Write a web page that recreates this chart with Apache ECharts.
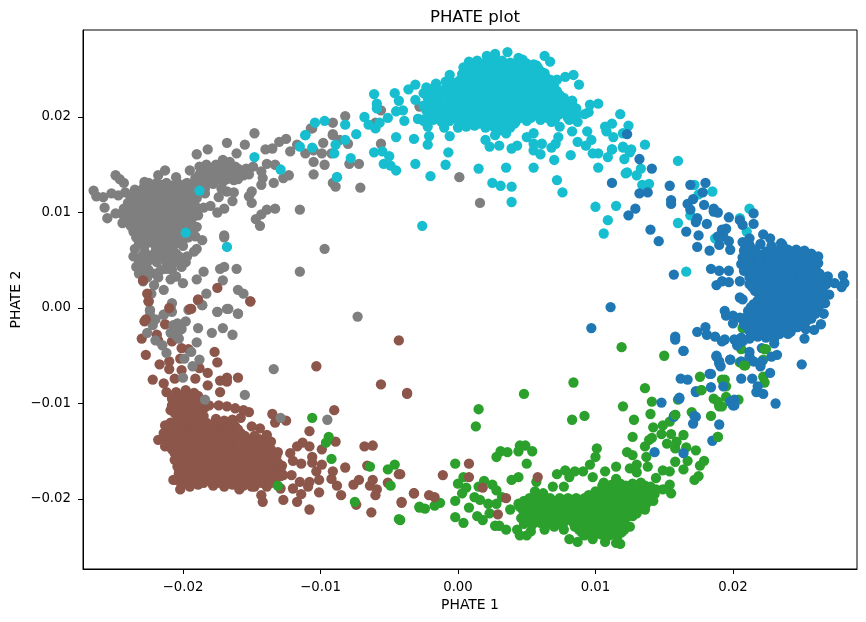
<!DOCTYPE html>
<html>
<head>
<meta charset="utf-8">
<style>html,body{margin:0;padding:0;background:#fff}#chart{width:866px;height:622px}</style>
<script src="https://cdn.jsdelivr.net/npm/echarts@6/dist/echarts.min.js"></script>
</head>
<body>
<div id="chart"></div>
<script>
// PHATE embedding coordinates, stored as [PHATE 1, PHATE 2] in units of 1e-4.
const UNIT = 1e-4;
const tickValues = [-0.02, -0.01, 0, 0.01, 0.02];

const brownPoints = [
[-225,7],[-209,0],[-194,-1],[-189,8],[-151,7],[-228,-14],[-213,-17],[-230,-32],[-219,-28],[-218,-34],[-208,-35],[-227,-49],[-201,-42],[-196,-43],[-177,-46],[-175,-57],[-217,-59],[-210,-56],[-210,-64],[-202,-53],[-201,-65],[-188,-63],[-182,-68],[-222,-75],[-214,-79],[-212,-88],[-206,-74],[-191,-74],[-182,-81],[-173,-76],[-168,-73],[-168,-77],[-160,-73],[-173,-88],[-103,-61],[-43,-34],[-56,-80],[-37,-90],[-90,-107],[-125,-118],[-135,-111],[-133,-120],[-108,-129],[-89,-140],[-99,-148],[-68,-145],[-62,-144],[-113,-141],[-117,-145],[-108,-145],[-122,-152],[-120,-160],[-114,-163],[-106,-156],[-106,-162],[-99,-164],[-103,-171],[-91,-171],[-82,-167],[-92,-179],[-88,-186],[-101,-180],[-108,-182],[-115,-182],[-109,-187],[-101,-193],[-114,-195],[-120,-189],[-117,-203],[-127,-201],[-142,-203],[-143,-196],[-108,-211],[-85,-196],[-76,-185],[-72,-180],[-74,-206],[-60,-196],[-59,-190],[-64,-186],[-62,-180],[-51,-183],[-43,-174],[-41,-203],[-32,-194],[-63,-214],[-66,-165],[-121,-175],[-129,-189],[-139,-187],[-148,-187],[-159,-190],[-202,-190],[-207,-180],[-131,-151],[-136,-140],[-139,-133],[-144,-126],[-150,-124],[-152,-109],
[-205,-88],[-198,-86],[-192,-89],[-189,-92],[-208,-95],[-202,-96],[-196,-94],[-190,-97],[-208,-102],[-203,-101],[-197,-103],[-191,-102],[-184,-104],[-181,-102],[-174,-102],[-168,-103],[-162,-105],[-156,-107],[-209,-107],[-206,-110],[-200,-111],[-194,-109],[-188,-112],[-204,-117],[-198,-116],[-192,-118],[-176,-116],[-170,-118],[-164,-117],[-158,-115],[-213,-123],[-206,-124],[-200,-123],[-194,-125],[-186,-122],[-180,-124],[-174,-123],[-168,-125],[-162,-124],[-214,-131],[-208,-130],[-202,-132],[-196,-131],[-190,-130],[-184,-132],[-178,-131],[-172,-130],[-166,-132],[-158,-131],[-218,-138],[-211,-139],[-205,-137],[-199,-138],[-193,-139],[-187,-138],[-181,-137],[-175,-139],[-169,-138],[-163,-137],[-157,-139],[-151,-138],[-145,-137],[-213,-145],[-205,-144],[-199,-146],[-193,-145],[-187,-144],[-181,-146],[-175,-145],[-169,-144],[-163,-146],[-157,-145],[-151,-144],[-145,-146],[-140,-145],[-206,-152],[-200,-151],[-194,-153],[-188,-152],[-182,-151],[-176,-153],[-170,-152],[-164,-151],[-158,-153],[-152,-152],[-146,-151],[-140,-153],[-206,-159],[-200,-160],[-194,-158],[-188,-159],[-182,-160],[-176,-158],[-170,-159],[-164,-160],[-158,-158],[-152,-159],[-146,-160],[-140,-158],[-134,-159],[-204,-166],[-198,-165],[-192,-167],[-186,-166],[-180,-165],[-174,-167],[-168,-166],[-162,-165],[-156,-167],[-150,-166],[-144,-165],[-138,-167],[-132,-166],[-128,-165],[-203,-173],[-197,-174],[-191,-172],[-185,-173],[-179,-174],[-173,-172],[-167,-173],[-161,-174],[-155,-172],[-149,-173],[-143,-174],[-137,-172],[-131,-173],[-127,-175],[-205,-180],[-199,-179],[-193,-181],[-187,-180],[-181,-179],[-175,-181],[-169,-180],[-163,-179],[-157,-181],[-151,-180],[-145,-179],[-139,-181],[-133,-180],[-201,-186],[-195,-187],[-189,-185],[-178,-186],[-170,-187],[-164,-185],[-156,-186],[-150,-187]
];
// Dense core of each cluster, one row per PHATE 2 value: [PHATE 2, PHATE 1, PHATE 1, ...].
const brownCoreRows = [
[-92,-203,-197,-191],[-99,-205,-199,-193,-187],[-106,-206,-200,-194,-188],[-113,-203,-197,-191,-185],
[-120,-209,-203,-197,-190,-183,-177,-171,-165],[-127,-210,-204,-198,-192,-185,-179,-173,-167,-160],
[-134,-212,-205,-199,-193,-187,-181,-175,-169,-163,-155,-148],[-141,-209,-202,-196,-190,-184,-178,-172,-166,-160,-154,-148,-142],
[-148,-208,-203,-196,-190,-184,-178,-172,-166,-160,-154,-148,-142,-136],[-155,-203,-197,-191,-185,-179,-173,-167,-161,-155,-149,-143,-137,-132],
[-162,-203,-197,-191,-185,-179,-173,-167,-161,-155,-149,-143,-137,-131],[-169,-201,-195,-189,-183,-177,-171,-165,-159,-153,-147,-141,-135,-129],
[-176,-200,-194,-188,-182,-176,-170,-164,-158,-152,-146,-140,-134,-129],[-183,-197,-191,-185,-179,-173,-167,-161,-155,-149,-143,-136]
];

const grayPoints = [
[-265,123],[-263,117],[-258,116],[-252,120],[-247,118],[-249,139],[-246,135],[-243,131],[-242,121],[-257,105],[-255,94],[-249,99],[-244,89],[-235,124],[-228,132],[-218,139],[-213,144],[-205,137],[-195,144],[-190,161],[-182,166],[-168,173],[-155,171],[-148,183],[-161,162],[-140,166],[-135,167],[-130,174],[-125,177],
[-228,128],[-222,127],[-216,129],[-208,128],[-200,127],[-194,129],[-232,122],[-225,121],[-219,123],[-213,122],[-206,121],[-199,123],[-193,122],[-188,121],[-238,116],[-231,117],[-226,115],[-220,116],[-214,117],[-207,115],[-201,116],[-195,117],[-190,115],[-240,110],[-234,109],[-228,111],[-222,110],[-215,109],[-209,111],[-203,110],[-197,109],[-192,111],[-243,104],[-237,105],[-230,103],[-225,104],[-218,105],[-212,103],[-205,104],[-199,105],[-194,103],[-244,98],[-238,97],[-232,99],[-226,98],[-220,97],[-214,99],[-208,98],[-202,97],[-196,99],[-240,92],[-234,93],[-228,91],[-222,92],[-215,93],[-209,91],[-203,92],[-238,86],[-232,85],[-226,87],[-220,86],[-214,85],[-207,87],[-236,80],[-230,81],[-224,79],[-218,80],[-212,81],[-205,79],[-198,80],[-234,74],[-228,73],[-222,75],[-216,74],[-210,73],[-203,75],[-196,74],[-232,68],[-224,69],[-216,67],[-210,68],[-204,69],
[-235,62],[-236,54],[-234,43],[-232,36],[-229,28],[-225,55],[-225,40],[-220,36],[-223,15],[-221,24],[-214,19],[-212,41],[-214,54],[-208,62],[-205,57],[-198,48],[-201,43],[-192,59],[-190,62],[-186,71],[-191,75],[-190,85],[-189,97],[-185,105],[-180,107],[-175,100],[-170,104],[-170,76],[-170,74],[-161,41],[-173,41],[-170,43],[-185,38],[-190,30],[-171,29],[-205,33],[-209,30],[-200,26],[-183,15],[-160,19],[-156,15],[-167,-1],[-175,-4],[-160,-6],[-186,3],[-208,5],[-224,-3],[-214,-7],[-208,-4],[-196,-2],[-115,103],[-97,62],[-115,38],[-133,104],[-139,103],[-143,98],[-147,93],[-144,86],[-150,122],[-152,117],[-150,110],[-164,112],[-174,116],[-184,120],[-168,122],[-163,121],
[-183,150],[-171,155],[-166,153],[-188,148],[-178,144],[-173,141],[-167,144],[-162,148],[-156,139],[-149,148],[-143,143],[-142,136],[-143,129],[-134,131],[-139,151],[-133,150],[-127,136],[-123,139],[-191,136],[-184,132],[-178,130],[-172,125],[-192,124],[-198,130],[-163,134],[-171,132],[-122,164],[-117,171],[-111,162],[-105,165],[-98,173],[-99,162],[-92,162],[-91,181],[-105,153],[-97,150],[-105,140],[-91,131],[-89,127],[-106,188],
[-107,188],[-91,194],[-82,201],[-91,182],[-80,172],[-86,176],[-79,151],[-72,151],[-71,126],[-56,172],[-56,207],[-60,194],[-28,211],[1,137],[16,110],
[-224,-2],[-220,-12],[-214,-7],[-204,-16],[-198,-14],[-209,-26],[-204,-26],[-203,-32],[-226,-26],[-220,-34],[-215,-39],[-212,-47],[-199,-53],[-188,-54],[-193,-61],[-200,-73],[-190,-36],[-194,-46],[-189,-21],[-179,-26],[-171,-21],[-164,-28],[-186,3],[-175,-4],[-168,-1],[-160,-6],[-134,-64],[-155,-91],[-184,-96],[-129,-115],[-95,-117],[-73,-9],
[-207,-18],[-204,-21],[-207,-24],[-201,-22],[-205,-29],[-224,-8],[-222,-18]
];
const grayCoreRows = [
[150,-176,-170],[146,-186,-180,-174,-168,-160,-154],[140,-188,-182,-176,-168,-162,-152],[135,-187,-180,-175,-168,-160],
[131,-225,-219,-212,-204,-197,-188,-180],[125,-229,-222,-216,-210,-203,-196,-190,-184],[119,-235,-228,-222,-216,-210,-204,-198,-192],
[113,-237,-231,-225,-218,-212,-206,-200,-194],[107,-240,-234,-227,-221,-215,-208,-202,-196,-191],[101,-240,-235,-229,-223,-216,-210,-204,-197,-191],
[95,-242,-237,-231,-225,-218,-212,-205,-199,-193],[89,-237,-231,-225,-218,-212,-206,-200,-194],[83,-235,-229,-223,-217,-210,-203,-196],
[77,-232,-226,-220,-214,-207,-200,-193],[71,-230,-226,-219,-213,-207,-200],[65,-228,-220,-214,-207,-200],[59,-228,-220,-214,-208],
[54,-230,-221,-209,-203,-197],[48,-232,-226,-219,-212,-207,-204],[40,-228,-216,-208],[32,-226,-218]
];

const greenPoints = [
[119,-41],[150,-50],[84,-78],[48,-90],[15,-106],[13,-124],[83,-117],[92,-113],[136,-84],[141,-98],[120,-103],[140,-111],[128,-117],[142,-125],[127,-135],[176,-72],[177,-86],[192,-75],[194,-75],[186,-95],[195,-93],[190,-103],[189,-98],[170,-109],[184,-113],[189,-135],[158,-112],[154,-119],[149,-123],[155,-132],[148,-132],[141,-136],[139,-138],[136,-145],[137,-156],[123,-151],[127,-154],[164,-133],[159,-140],[152,-142],[166,-146],[173,-149],[158,-147],[158,-161],[167,-160],[164,-169],[179,-160],[176,-165],[175,-176],[172,-180],[154,-171],[149,-170],[155,-194],[154,-185],[149,-190],[144,-178],[138,-166],[130,-164],[125,-168],[130,-172],[115,-166],[115,-179],[107,-171],[101,-147],[100,-156],[96,-164],[98,-177],[91,-171],[85,-171],[81,-177],[78,-170],[72,-174],[50,-163],[54,-150],[49,-144],[45,-144],[44,-150],[36,-151],[31,-150],[28,-156],[44,-177],[39,-180],[-2,-163],[4,-177],[0,-184],[6,-188],[3,-194],[-2,-202],[-13,-204],[-17,-207],[-24,-210],[-28,-208],[-42,-222],[-2,-219],[4,-225],[8,-209],[14,-218],[18,-222],[15,-187],[19,-181],[25,-185],[28,-191],[32,-198],[12,-198],[16,-201],[22,-205],[28,-205],[23,-215],[27,-228],[35,-232],[43,-232],[45,-238],[50,-238],[53,-234],[30,-228],[57,-182],[56,-192],[55,-200],[62,-194],[69,-187],[77,-187],[38,-211],[44,-205],[81,-242],[87,-245],[115,-246],[118,-247],[107,-245],[98,-242],[77,-232],[63,-232],[70,-229],
[95,-196],[101,-197],[107,-195],[113,-196],[119,-197],[125,-195],[130,-196],[137,-197],[143,-195],[106,-183],[112,-185],[118,-184],[127,-184],[133,-183],[140,-187],[108,-190],[114,-189],[120,-191],[126,-190],[132,-189],[138,-191],[144,-190],
[48,-202],[55,-203],[62,-201],[70,-202],[77,-203],[83,-201],[88,-202],[94,-203],[100,-201],[106,-202],[112,-203],[118,-201],[124,-202],[130,-203],[136,-201],[142,-202],[45,-208],[52,-209],[58,-207],[66,-208],[74,-209],[80,-207],[86,-208],[92,-209],[98,-207],[104,-208],[110,-209],[116,-207],[122,-208],[128,-209],[134,-207],[50,-214],[56,-215],[62,-213],[70,-214],[76,-215],[82,-213],[88,-214],[94,-215],[100,-213],[106,-214],[112,-215],[118,-213],[124,-214],[130,-215],[136,-211],[46,-220],[52,-221],[58,-219],[66,-220],[74,-221],[80,-219],[86,-220],[92,-221],[98,-219],[104,-220],[110,-221],[116,-219],[122,-220],[127,-218],[48,-226],[54,-227],[60,-225],[68,-226],[76,-227],[84,-225],[90,-226],[96,-227],[102,-225],[108,-226],[114,-227],[120,-225],[125,-229],[88,-232],[93,-233],[99,-231],[105,-232],[111,-233],[117,-231],[121,-232],[92,-238],[98,-239],[104,-237],[110,-238],[116,-239],
[224,-43],[206,-43],[207,-21],[205,-57],[209,-60],[195,-82],[223,-78],[222,-72],[222,-54],[204,-96],[192,-103],[160,-96],
[-106,-115],[-94,-135],[-96,-141],[-92,-158],[-64,-166],[-51,-169],[-46,-164],[-49,-186],[-75,-203],[-131,-186],[-28,-209],[-43,-221]
];
const greenCoreRows = [
[-186,105,110,116,122,130,136],[-192,100,106,112,118,124,130,136,142],[-199,52,60,67,74,80,86,92,98,104,110,116,122,128,134,140],
[-205,49,56,63,70,77,83,89,95,101,107,113,119,125,131,137],[-211,47,54,60,68,75,81,87,93,99,105,111,117,123,129],
[-217,48,54,60,68,75,81,87,93,99,105,111,117,123],[-223,50,56,64,72,78,84,90,96,102,108,114,120],
[-229,85,91,97,103,109,115,121],[-235,90,96,102,108,114,119]
];

const brownTopPoints = [
[-229,29],[-226,15],[-225,7],[-175,21],[-189,9],[-210,0],[-195,-1],[-151,7],[-227,-12],
[8,-163],[8,-177],[-11,-175],[-37,-89],[-42,-174],[-32,-194],[-21,-196],[-17,-198],[-41,-204],[58,-177],[18,-188],[35,-199],[29,-216]
];

const cyanPoints = [
[-104,194],[-97,196],[-111,181],[-82,192],[-82,176],[-74,182],[-89,171],[-90,162],[-106,168],[-115,169],[-78,157],[-88,137],[-68,200],[-65,192],[-60,188],[-57,194],[-51,199],[-61,224],[-59,214],[-59,209],[-46,225],[-43,217],[-45,206],[-40,207],[-39,196],[-45,179],[-32,177],[-61,163],[-55,164],[-50,159],[-54,151],[-49,149],[-45,144],[-31,151],[-20,138],[-26,86],[-36,229],[-31,234],[-22,171],[-21,180],[-22,190],[-10,189],[0,189],[-6,180],[-7,163],[-9,150],[-29,198],[15,146],[35,147],[25,131],[31,128],[39,127],[39,111],[20,176],[23,169],[30,170],[39,167],[43,170],[50,179],[55,183],[55,172],[61,172],[55,165],[60,161],[55,147],[70,155],[68,168],[71,172],[73,179],[82,160],[87,174],[93,170],[97,176],[98,162],[102,162],[109,158],[112,166],[120,168],[126,166],[125,163],[121,156],[102,147],[122,141],[130,139],[72,134],[76,121],[100,106],[115,107],[109,92],[106,78],[118,203],[124,191],[112,193],[107,190],[108,185],[113,179],[120,183],[102,214],[96,213],[95,205],[87,195],[94,185],[83,185],[74,190],[81,197],[88,234],[84,244],[78,242],[72,239],[63,264],[67,258],[36,268],[27,266],[21,264],[44,262],[47,260],[57,254],[-6,244],[-9,237],[-16,235],
[8,258],[14,259],[20,257],[26,258],[32,259],[38,257],[44,258],[50,256],[4,252],[10,251],[16,253],[22,252],[28,251],[34,253],[40,252],[46,251],[52,253],[58,252],[3,245],[9,246],[15,244],[21,245],[27,246],[33,244],[39,245],[45,246],[51,244],[57,245],[63,246],[1,238],[7,237],[13,239],[19,238],[25,237],[31,239],[37,238],[43,237],[49,239],[55,238],[61,237],[67,239],[-2,231],[4,232],[10,230],[16,231],[22,232],[28,230],[34,231],[40,232],[46,230],[52,231],[58,232],[64,230],[70,231],[-4,224],[2,223],[8,225],[14,224],[20,223],[26,225],[32,224],[38,223],[44,225],[50,224],[56,223],[62,225],[68,224],[74,223],[-7,217],[-1,218],[5,216],[11,217],[17,218],[23,216],[29,217],[35,218],[41,216],[47,217],[53,218],[59,216],[65,217],[71,218],[77,216],[83,217],[-10,210],[-4,209],[2,211],[8,210],[14,209],[20,211],[26,210],[32,209],[38,211],[44,210],[50,209],[56,211],[62,210],[68,209],[74,211],[80,210],[86,209],[-16,203],[-10,204],[-4,202],[2,203],[8,204],[14,202],[20,203],[26,204],[32,202],[38,203],[44,204],[50,202],[56,203],[62,204],[68,202],[74,203],[80,204],[86,202],[92,203],[-25,196],[-18,197],[-12,195],[-6,196],[0,197],[6,195],[12,196],[18,197],[24,195],[30,196],[36,197],[42,195],[50,196],[60,197],[68,195],[6,190],[12,191],[20,189],[26,190],[32,191],[38,189],[30,186],[35,183],[27,181],
[-23,231],[-31,218],[-25,225],[-19,225],[-13,228],[-18,216],[-13,218],[-23,207],[-18,207],[-12,207],[-29,198],[-24,198],[-16,198],
[-20,212],[-14,212],[-8,212],[-25,212],[-22,220],[-16,222],[-10,226],[-18,230],[-8,232],[-4,236],
[166,38],[160,154],[136,171],[120,169],[125,165],[112,166],[134,129],[139,130],[172,129],[185,122],[175,119],[212,104],[169,97],[160,89],[205,94],[210,80],[187,73],[133,146],[123,142],
[-198,79],[-168,64],[-129,145],[-148,158],[-111,181],[-88,137],[-188,123]
];
const cyanCoreRows = [
[255,11,17,23,29,35,41,47,55],[248,6,12,18,24,30,36,42,48,54,60],[241,4,10,16,22,28,34,40,46,52,58,64],
[234,2,7,13,19,25,31,37,43,49,55,61,67],[227,1,7,13,19,25,31,37,43,49,55,61,67,72],[220,-5,5,11,17,23,29,35,41,47,53,59,65,71,77],
[213,-7,-1,5,11,17,23,29,35,41,47,53,59,65,71,77,83],[206,-13,-7,-1,5,11,17,23,29,35,41,47,53,59,65,71,77,83],
[199,-20,-13,-7,-1,3,9,15,21,27,33,39,45,53,60,65,71,80],[193,3,9,15,23,29,35,41]
];

const bluePoints = [
[123,182],[132,156],[141,146],[112,131],[132,120],[138,121],[129,104],[124,97],[140,82],[146,70],[154,128],[169,129],[180,131],[178,121],[155,113],[155,109],[171,114],[167,109],[169,103],[179,108],[186,104],[186,101],[189,100],[174,94],[173,90],[181,88],[166,80],[175,76],[174,64],[183,60],[197,95],[205,92],[207,87],[215,99],[215,88],[195,83],[192,82],[189,75],[193,75],[197,70],[190,66],[198,61],[184,41],[190,39],[197,39],[157,35],[188,24],[192,28],[197,27],[205,28],[205,11],[207,9],[194,-3],[195,-8],[200,-8],[205,-10],[200,-16],[180,-20],[174,-25],[181,-28],[187,-30],[192,-35],[194,-33],[158,-30],[164,-45],[111,1],[97,-21],[201,-33],[203,-39],[207,-35],[188,-51],[190,-56],[191,-61],[198,-54],[206,-56],[212,-46],[212,-51],[215,-56],[221,-56],[220,-61],[184,-69],[162,-74],[167,-75],[184,-83],[193,-82],[173,-88],[161,-94],[148,-99],[206,-74],[214,-74],[227,-68],[218,-82],[217,-88],[222,-90],[231,-100],[250,-59],[252,-32],[228,-51],[232,-49],[230,-37],[221,-42],[201,-96],[200,-102],[198,-98],[172,-113],[157,-113],[158,-33],[164,-45],[188,-50],[190,-58],[198,-54],[183,-69],[173,-87],[161,-95],[200,-98],[201,-102],[157,-114],[173,-114],[171,-121],[190,-122],[185,-139],[143,-151],[164,-152],
[280,34],[281,26],[279,22],[274,26],[269,33],[270,14],[267,5],[266,-6],[264,-17],[259,-23],[253,-22],[262,54],[257,57],[252,60],[246,61],[235,68],[227,73],[222,77],[212,73],[207,69],
[212,66],[220,67],[228,65],[236,66],[208,60],[216,61],[224,59],[232,60],[240,61],[248,59],[207,53],[214,54],[222,52],[230,53],[238,54],[246,52],[254,53],[206,46],[214,45],[221,47],[229,46],[236,45],[243,47],[250,46],[256,45],[262,47],[208,39],[216,38],[226,40],[233,39],[240,38],[247,40],[254,39],[261,38],[212,32],[222,33],[228,31],[234,32],[240,33],[246,31],[252,32],[258,33],[264,31],[268,32],[212,25],[220,26],[226,24],[232,25],[238,26],[244,24],[250,25],[256,26],[262,24],[268,25],[216,18],[222,19],[228,17],[234,18],[240,19],[246,17],[252,18],[258,19],[264,17],[220,11],[226,10],[232,12],[238,11],[244,10],[250,12],[256,11],[262,10],[266,12],[215,4],[221,5],[227,3],[233,4],[239,5],[245,3],[251,4],[257,5],[263,3],[211,-3],[217,-4],[223,-2],[229,-3],[235,-4],[241,-2],[247,-3],[253,-4],[259,-2],[209,-10],[215,-9],[221,-11],[227,-10],[233,-9],[239,-11],[245,-10],[251,-9],[257,-11],[208,-17],[214,-18],[220,-16],[226,-17],[232,-18],[238,-16],[244,-17],[250,-18],[212,-24],[218,-23],[224,-25],[230,-24],[238,-23],[242,-25],[206,-31],[212,-32],[218,-30],[224,-31],[230,-32]
];
const blueCoreRows = [
[57,211,218,226,234,242,250],[50,210,218,226,234,240,247,253,259],[43,211,220,225,232,240,246,252,258],[36,214,220,228,236,243,250,257,263],
[29,216,224,231,237,243,249,255,261,266],[22,214,223,229,235,241,247,253,259,265],[15,219,225,231,237,243,249,255,261,267],[8,218,224,229,235,241,247,253,259,264],
[1,213,219,225,231,237,243,249,255,261],[-6,212,219,225,231,237,243,249,255,260],[-13,212,218,224,230,236,242,248,254],[-20,211,216,222,228,235,241,247],[-27,215,221,227,234,240]
];

const greenTopPoints = [[158,-112],[177,-86],[189,-135],[223,-43],[208,-60]];

const expandRows = rows => rows.flatMap(([y, ...xs]) => xs.map(x => [x, y]));

// Layers are listed back to front so overlaps between clusters resolve the same way.
const layers = [
  [brownPoints.concat(expandRows(brownCoreRows)), '#8c564b'],
  [grayPoints.concat(expandRows(grayCoreRows)), '#7f7f7f'],
  [greenPoints.concat(expandRows(greenCoreRows)), '#2ca02c'],
  [brownTopPoints, '#8c564b'],
  [cyanPoints.concat(expandRows(cyanCoreRows)), '#17becf'],
  [bluePoints.concat(expandRows(blueCoreRows)), '#1f77b4'],
  [greenTopPoints, '#2ca02c']
];

const FONT = '"DejaVu Sans"';
const formatTick = v => {
  const s = Math.abs(v).toFixed(2);
  return v < -1e-9 ? '\u2212' + s : s;
};
const axisBase = {
  type: 'value',
  scale: true,
  nameLocation: 'middle',
  nameMoveOverlap: false,
  nameTextStyle: { color: '#000', fontFamily: FONT, fontSize: 13.9 },
  splitLine: { show: false },
  axisLine: { show: true, onZero: false, lineStyle: { color: '#000', width: 1 } },
  axisTick: { show: true, length: 5, lineStyle: { color: '#000', width: 1 }, customValues: tickValues },
  axisLabel: { show: true, color: '#000', fontFamily: FONT, fontSize: 13.3, margin: 12, formatter: formatTick, customValues: tickValues }
};

const chart = echarts.init(document.getElementById('chart'), null, { renderer: 'canvas' });
chart.setOption({
  animation: false,
  backgroundColor: '#fff',
  title: {
    text: 'PHATE plot',
    left: 470, top: 4, textAlign: 'center',
    textStyle: { color: '#000', fontFamily: FONT, fontSize: 16.6, fontWeight: 'normal' }
  },
  grid: { left: 83, right: 9, top: 30, bottom: 53, outerBoundsMode: 'none', show: true, borderColor: '#000', borderWidth: 1, backgroundColor: 'transparent' },
  xAxis: Object.assign({}, axisBase, { name: 'PHATE 1', nameGap: 29, min: -0.02727, max: 0.02902 }),
  yAxis: Object.assign({}, axisBase, { name: 'PHATE 2', nameGap: 60, min: -0.02733, max: 0.02911 }),
  series: layers.map(([points, color]) => ({
    type: 'scatter',
    symbol: 'circle',
    symbolSize: 10.3,
    silent: true,
    itemStyle: { color: color, opacity: 1 },
    data: points.map(([x, y]) => [x * UNIT, y * UNIT])
  }))
});
</script>
</body>
</html>
